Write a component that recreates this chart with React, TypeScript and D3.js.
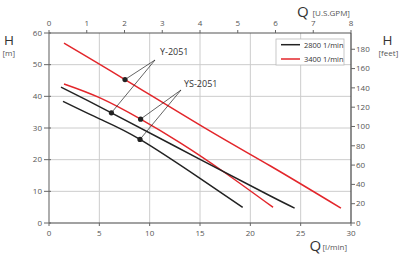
import React from "react";
import * as d3 from "d3";

const qTicks = [0, 5, 10, 15, 20, 25, 30];
const hTicks = [0, 10, 20, 30, 40, 50, 60];
const gpmTicks = [0, 1, 2, 3, 4, 5, 6, 7, 8];
const feetTicks = [0, 20, 40, 60, 80, 100, 120, 140, 160, 180];

const y2051_3400: [number, number][] = [[1.49, 56.8], [7.55, 45.3], [15.8, 29.4], [22.0, 18.0], [29.0, 4.7]];
const ys2051_3400: [number, number][] = [[1.49, 43.9], [5.07, 39.5], [9.1, 32.8], [13.0, 25.4], [17.2, 16.5], [22.25, 4.96]];
const y2051_2800: [number, number][] = [[1.19, 42.9], [6.2, 34.8], [15.0, 20.1], [21.95, 8.6], [24.4, 4.7]];
const ys2051_2800: [number, number][] = [[1.39, 38.4], [5.07, 32.8], [9.04, 26.4], [15.0, 14.1], [19.24, 4.96]];

const markerY2051: [number, number][] = [[7.55, 45.3], [6.2, 34.8]];
const markerYS2051: [number, number][] = [[9.1, 32.8], [9.04, 26.4]];

const legendItems = [
  { label: "2800 1/min", color: "#222" },
  { label: "3400 1/min", color: "#e3262b" },
];

const RED = "#e3262b";
const BLK = "#222";
const FONT = "'Open Sans', 'Noto Sans', sans-serif";

export default function App() {
  const x = d3.scaleLinear().domain([0, 30]).range([49, 351]);
  const y = d3.scaleLinear().domain([0, 60]).range([223, 33]);
  const xg = d3.scaleLinear().domain([0, 8]).range([49, 351]);
  const yf = d3.scaleLinear().domain([0, 60 / 0.3048]).range([223, 33]);
  const line = d3
    .line<[number, number]>()
    .x((d) => x(d[0]))
    .y((d) => y(d[1]))
    .curve(d3.curveNatural);

  const curves = [
    { d: y2051_3400, c: RED },
    { d: ys2051_3400, c: RED },
    { d: y2051_2800, c: BLK },
    { d: ys2051_2800, c: BLK },
  ];

  const apexY = { x: 155, y: 60 };
  const apexYS = { x: 181, y: 90 };

  return (
    <svg width={400} height={273} style={{ position: "absolute", left: 0, top: 0, fontFamily: FONT }}>
      <rect width={400} height={273} fill="#fff" />
      {/* grid */}
      {qTicks.slice(1, -1).map((t) => (
        <line key={"gx" + t} x1={x(t)} x2={x(t)} y1={33} y2={223} stroke="#ccc" strokeWidth={1} />
      ))}
      {hTicks.slice(1, -1).map((t) => (
        <line key={"gy" + t} x1={49} x2={351} y1={y(t)} y2={y(t)} stroke="#ccc" strokeWidth={1} />
      ))}
      {/* frame */}
      <line x1={49} x2={351} y1={33} y2={33} stroke="#555" strokeWidth={1.2} />
      <line x1={49} x2={351} y1={223} y2={223} stroke="#444" strokeWidth={1.2} />
      <line x1={49} x2={49} y1={33} y2={223} stroke="#777" strokeWidth={1.2} />
      <line x1={351} x2={351} y1={33} y2={223} stroke="#444" strokeWidth={1.2} />
      {/* left ticks */}
      {hTicks.map((t) => (
        <g key={"l" + t}>
          <line x1={44} x2={51} y1={y(t)} y2={y(t)} stroke="#666" strokeWidth={1} />
          <text x={42} y={y(t) + 2.8} fontSize={8} fill="#555" textAnchor="end">{t}</text>
        </g>
      ))}
      {/* bottom ticks */}
      {qTicks.map((t) => (
        <g key={"b" + t}>
          <line x1={x(t)} x2={x(t)} y1={223} y2={226} stroke="#666" strokeWidth={1} />
          <text x={x(t)} y={236} fontSize={8} fill="#555" textAnchor="middle">{t}</text>
        </g>
      ))}
      {/* top ticks */}
      {gpmTicks.map((t) => (
        <g key={"t" + t}>
          <line x1={xg(t)} x2={xg(t)} y1={30} y2={33} stroke="#666" strokeWidth={1} />
          <text x={xg(t)} y={26} fontSize={8} fill="#555" textAnchor="middle">{t}</text>
        </g>
      ))}
      {/* right ticks */}
      {feetTicks.map((t) => (
        <g key={"r" + t}>
          <line x1={351} x2={355} y1={yf(t)} y2={yf(t)} stroke="#666" strokeWidth={1} />
          <text x={356} y={yf(t) + 2.8} fontSize={8} fill="#555" textAnchor="start">{t}</text>
        </g>
      ))}
      {/* curves */}
      {curves.map((c, i) => (
        <path key={"c" + i} d={line(c.d) || ""} fill="none" stroke={c.c} strokeWidth={1.5} />
      ))}
      {/* callouts */}
      {markerY2051.map((m, i) => (
        <line key={"cy" + i} x1={apexY.x} y1={apexY.y} x2={x(m[0])} y2={y(m[1])} stroke="#222" strokeWidth={0.7} />
      ))}
      {markerYS2051.map((m, i) => (
        <line key={"cys" + i} x1={apexYS.x} y1={apexYS.y} x2={x(m[0])} y2={y(m[1])} stroke="#222" strokeWidth={0.7} />
      ))}
      {[...markerY2051, ...markerYS2051].map((m, i) => (
        <circle key={"m" + i} cx={x(m[0])} cy={y(m[1])} r={2.6} fill="#222" />
      ))}
      <text x={160} y={55} fontSize={9} fill="#333">Y-2051</text>
      <text x={184} y={86.5} fontSize={9} fill="#333">YS-2051</text>
      {/* legend */}
      <rect x={276} y={39} width={68} height={26} fill="#fff" stroke="#bbb" strokeWidth={0.8} />
      {legendItems.map((it, i) => (
        <g key={"lg" + i}>
          <line x1={281} x2={300} y1={44.7 + i * 14.3} y2={44.7 + i * 14.3} stroke={it.color} strokeWidth={1.5} />
          <text x={304} y={47.5 + i * 14.3} fontSize={7.5} fill="#333">{it.label}</text>
        </g>
      ))}
      {/* axis titles */}
      <text x={4} y={44.5} fontSize={13.5} fill="#333">H</text>
      <text x={2.5} y={56} fontSize={8} fill="#555">[m]</text>
      <text x={382.5} y={44.5} fontSize={13.5} fill="#333">H</text>
      <text x={378.5} y={56} fontSize={8} fill="#555">[feet]</text>
      <text x={297} y={17} fontSize={15} fill="#333">Q</text>
      <text x={312.5} y={15.5} fontSize={8} fill="#555">[U.S.GPM]</text>
      <text x={309.5} y={251} fontSize={15} fill="#333">Q</text>
      <text x={322.5} y={250} fontSize={8} fill="#555">[l/min]</text>
    </svg>
  );
}
